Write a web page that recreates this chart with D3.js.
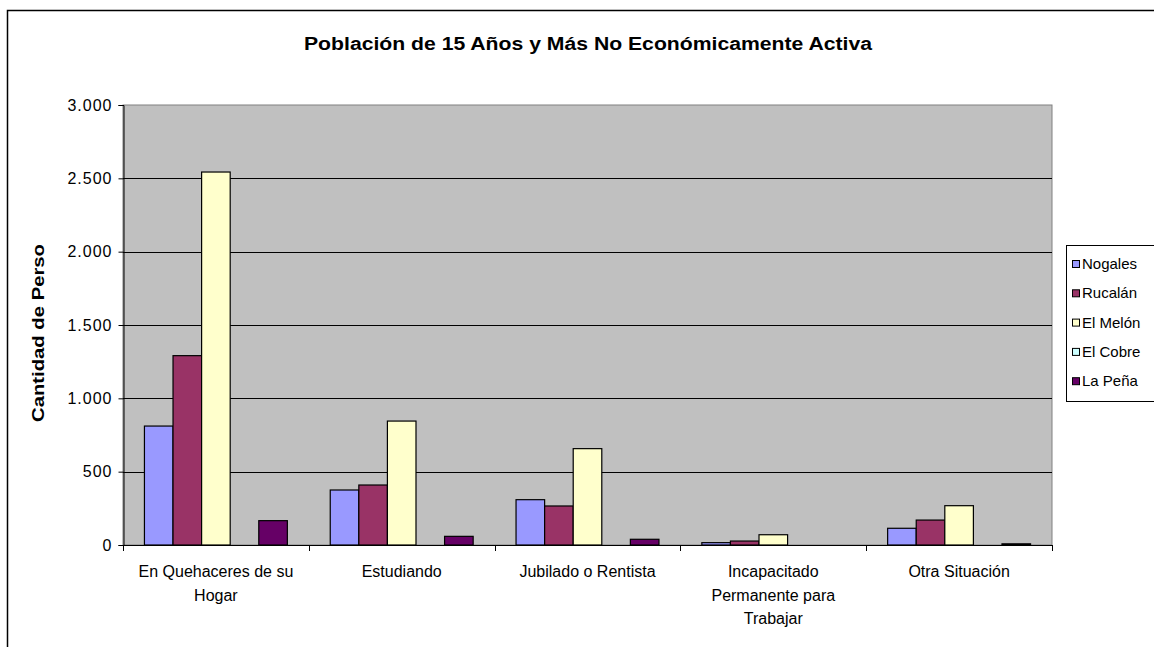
<!DOCTYPE html>
<html>
<head>
<meta charset="utf-8">
<script src="https://cdn.jsdelivr.net/npm/d3@7"></script>
<style>
  html, body { margin: 0; padding: 0; background: #fff; }
  svg { display: block; }
  text { font-family: "Liberation Sans", Arial, sans-serif; }
</style>
</head>
<body>
<svg id="chart" width="1154" height="647"></svg>
<script>
const categories = [
  ["En Quehaceres de su", "Hogar"],
  ["Estudiando"],
  ["Jubilado o Rentista"],
  ["Incapacitado", "Permanente para", "Trabajar"],
  ["Otra Situación"]
];
const seriesNames = ["Nogales", "Rucalán", "El Melón", "El Cobre", "La Peña"];
const seriesColors = ["#9999FF", "#993366", "#FFFFCC", "#CCFFFF", "#660066"];
const nogales = [811, 375, 309, 16, 114];
const rucalan = [1291, 409, 266, 27, 170];
const elMelon = [2543, 845, 657, 70, 268];
const elCobre = [0, 0, 0, 0, 0];
const laPena = [166, 59, 39, 0, 8];
const yTicks = [0, 500, 1000, 1500, 2000, 2500, 3000];
const yTickLabels = ["0", "500", "1.000", "1.500", "2.000", "2.500", "3.000"];
const title = "Población de 15 Años y Más No Económicamente Activa";
const yTitle = "Cantidad de Perso";

const seriesValues = [nogales, rucalan, elMelon, elCobre, laPena];

const svg = d3.select("#chart");
const plot = { left: 123, right: 1052, top: 105, bottom: 545 };

// outer frame
svg.append("rect").attr("x", 7.5).attr("y", 10.5).attr("width", 1200).attr("height", 700)
  .attr("fill", "#fff").attr("stroke", "#000").attr("stroke-width", 1.5);

// title
svg.append("text").attr("x", 588).attr("y", 50).attr("text-anchor", "middle")
  .attr("font-size", 18).attr("font-weight", "bold").attr("textLength", 568)
  .attr("lengthAdjust", "spacingAndGlyphs").text(title);

const catIdx = d3.range(categories.length);
const x0 = d3.scaleBand().domain(catIdx).range([plot.left, plot.right]).paddingInner(0).paddingOuter(0);
const x1 = d3.scaleBand().domain(d3.range(seriesNames.length)).range([0, x0.bandwidth()])
  .paddingInner(0).paddingOuter(0.75);
const y = d3.scaleLinear().domain([0, 3000]).range([plot.bottom, plot.top]);

// plot background
svg.append("rect").attr("x", plot.left).attr("y", plot.top)
  .attr("width", plot.right - plot.left).attr("height", plot.bottom - plot.top)
  .attr("fill", "#C0C0C0").attr("stroke", "#808080").attr("stroke-width", 1);

// gridlines
svg.append("g").selectAll("line").data(yTicks.filter(t => t > 0 && t < 3000)).join("line")
  .attr("x1", plot.left).attr("x2", plot.right)
  .attr("y1", d => Math.round(y(d)) + 0.5).attr("y2", d => Math.round(y(d)) + 0.5)
  .attr("stroke", "#000").attr("stroke-width", 1);

// bars
const groups = svg.append("g").selectAll("g").data(catIdx).join("g")
  .attr("transform", i => `translate(${x0(i)},0)`);
groups.selectAll("rect").data(i => seriesValues.map((s, k) => ({ k, v: s[i] })).filter(d => d.v > 0))
  .join("rect")
  .attr("x", d => x1(d.k)).attr("width", x1.bandwidth())
  .attr("y", d => y(d.v)).attr("height", d => y(0) - y(d.v))
  .attr("fill", d => seriesColors[d.k]).attr("stroke", "#000").attr("stroke-width", 1.2);

// y axis
const yAxis = d3.axisLeft(y).tickValues(yTicks).tickSize(5).tickPadding(6)
  .tickFormat((d, i) => yTickLabels[i]);
const gy = svg.append("g").attr("transform", `translate(${plot.left + 0.5},0)`).call(yAxis);
gy.select(".domain").attr("stroke", "#000");
gy.selectAll("line").attr("stroke", "#000");
gy.selectAll("text").attr("font-size", 16).attr("fill", "#000").attr("letter-spacing", 1)
  .attr("font-family", "'Liberation Sans', Arial, sans-serif");

// x axis
const bounds = d3.range(categories.length + 1).map(i => plot.left + i * x0.bandwidth());
const gx = svg.append("g");
gx.append("line").attr("x1", plot.left).attr("x2", plot.right)
  .attr("y1", plot.bottom + 0.5).attr("y2", plot.bottom + 0.5).attr("stroke", "#000");
gx.selectAll("line.tick").data(bounds).join("line").attr("class", "tick")
  .attr("x1", d => Math.round(d) + 0.5).attr("x2", d => Math.round(d) + 0.5)
  .attr("y1", plot.bottom).attr("y2", plot.bottom + 6).attr("stroke", "#000");
gx.selectAll("text").data(catIdx).join("text")
  .attr("x", i => x0(i) + x0.bandwidth() / 2).attr("y", 577)
  .attr("text-anchor", "middle").attr("font-size", 16)
  .each(function (i) {
    const t = d3.select(this);
    categories[i].forEach((line, j) => {
      t.append("tspan").attr("x", x0(i) + x0.bandwidth() / 2).attr("dy", j === 0 ? 0 : 23.5).text(line);
    });
  });

// y title
svg.append("text").attr("transform", "translate(44,333) rotate(-90)")
  .attr("text-anchor", "middle").attr("font-size", 16).attr("font-weight", "bold")
  .attr("textLength", 178).attr("lengthAdjust", "spacingAndGlyphs")
  .text(yTitle);

// legend
const lg = svg.append("g");
lg.append("rect").attr("x", 1066.5).attr("y", 245.5).attr("width", 120).attr("height", 156)
  .attr("fill", "#fff").attr("stroke", "#000");
const items = lg.selectAll("g").data(seriesNames).join("g")
  .attr("transform", (d, i) => `translate(0,${264 + i * 29.3})`);
items.append("rect").attr("x", 1072.5).attr("y", -3.5).attr("width", 7).attr("height", 7)
  .attr("fill", (d, i) => seriesColors[i]).attr("stroke", "#000");
items.append("text").attr("x", 1082).attr("y", 5).attr("font-size", 15).text(d => d);
</script>
</body>
</html>
